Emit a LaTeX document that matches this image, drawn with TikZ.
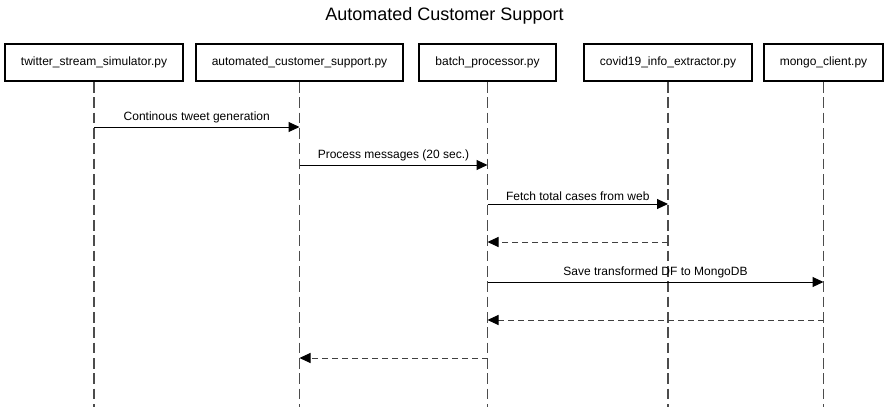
\documentclass[tikz,border=0pt]{standalone}
\usepackage{fontspec}
\setmainfont{Liberation Sans}
\usetikzlibrary{arrows.meta}
\begin{document}
\begin{tikzpicture}[x=0.75pt,y=-0.75pt,
  actor/.style={draw=black,line width=1.5pt,minimum height=37*0.75pt,inner sep=0pt,font=\fontsize{9pt}{11pt}\selectfont,fill=white},
  life/.style={draw=black!70,line width=0.9pt,dash pattern=on 7.9pt off 3.6pt},
  msg/.style={draw=black,line width=0.75pt,-{Triangle[length=8.25pt,width=7.5pt]}},
  ret/.style={draw=black!75,line width=0.75pt,dash pattern=on 4.5pt off 3pt,-{Triangle[length=8.25pt,width=7.5pt,fill=black,color=black]}},
  lbl/.style={font=\fontsize{9pt}{11pt}\selectfont,anchor=south,inner sep=0pt}]
\useasboundingbox (0,0) rectangle (889,407);
\node[font=\fontsize{13.5pt}{16pt}\selectfont] (title) at (444.5,16) {Automated Customer Support};
\node[actor,minimum width=178*0.75pt] (a) at (94,62.5) {twitter\_stream\_simulator.py};
\node[actor,minimum width=207*0.75pt] (b) at (299.5,62.5) {automated\_customer\_support.py};
\node[actor,minimum width=137*0.75pt] (c) at (487.5,62.5) {batch\_processor.py};
\node[actor,minimum width=168*0.75pt] (d) at (668,62.5) {covid19\_info\_extractor.py};
\node[actor,minimum width=119*0.75pt] (e) at (823.5,62.5) {mongo\_client.py};
\coordinate (bot) at (0,407);
\foreach \n in {a,b,c,d,e} {\draw[life] (\n.south) -- (\n.south |- bot);}
\coordinate (m1) at (0,127);
\coordinate (m2) at (0,165);
\coordinate (m3) at (0,204);
\coordinate (m4) at (0,242);
\coordinate (m5) at (0,282);
\coordinate (m6) at (0,320);
\coordinate (m7) at (0,358);
\draw[msg] (a |- m1) -- node[lbl,above=2.5pt] {Continous tweet generation} (b |- m1);
\draw[msg] (b |- m2) -- node[lbl,above=2.5pt] {Process messages (20 sec.)} (c |- m2);
\draw[msg] (c |- m3) -- node[lbl,above=2.5pt] {Fetch total cases from web} (d |- m3);
\draw[ret] (d |- m4) -- (c |- m4);
\draw[msg] (c |- m5) -- node[lbl,above=2.5pt] {Save transformed DF to MongoDB} (e |- m5);
\draw[ret] (e |- m6) -- (c |- m6);
\draw[ret] (c |- m7) -- (b |- m7);
\end{tikzpicture}
\end{document}
